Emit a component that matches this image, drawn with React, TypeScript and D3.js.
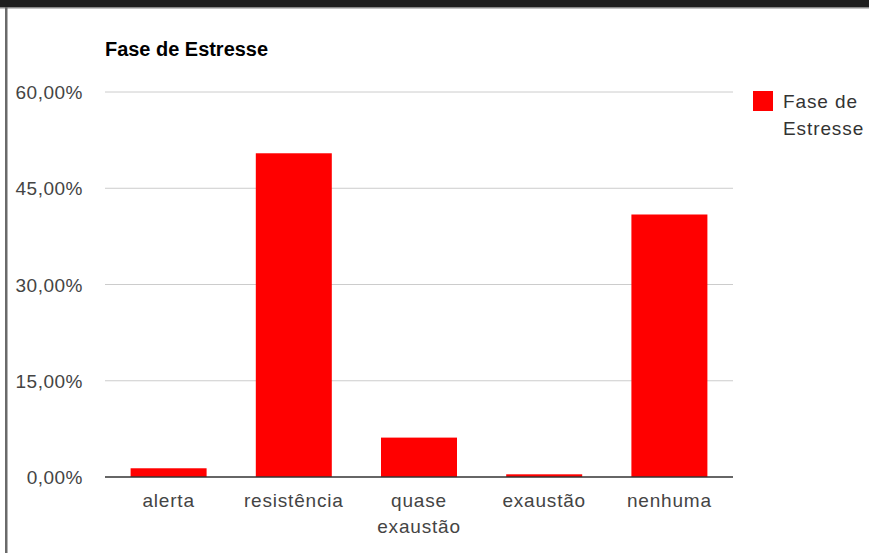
import React from "react";
import * as d3 from "d3";

const categories = ["alerta", "resistência", "quase exaustão", "exaustão", "nenhuma"];
const values = [1.36, 50.45, 6.14, 0.42, 40.91];
const yTicks = [0, 15, 30, 45, 60];
const seriesName = "Fase de Estresse";
const chartTitle = "Fase de Estresse";
const legendLines = ["Fase de", "Estresse"];

const W = 869;
const H = 553;
const FONT = "'Liberation Sans', Arial, sans-serif";

export default function App() {
  const x = d3
    .scaleBand<string>()
    .domain(categories)
    .range([106, 732])
    .paddingInner(0.393)
    .paddingOuter(0.1965);
  const y = d3.scaleLinear().domain([0, 60]).range([477, 92]);
  const fmt = (v: number) => v.toFixed(2).replace(".", ",") + "%";
  const wrap = (s: string) => (s.length > 12 ? s.split(" ") : [s]);

  return (
    <div style={{ position: "absolute", left: 0, top: 0 }}>
      <svg width={W} height={H} style={{ display: "block", background: "#fff" }}>
        <rect x={0} y={0} width={W} height={H} fill="#fff" />
        {/* frame */}
        <rect x={0} y={0} width={W} height={7} fill="#1e1e1e" />
        <rect x={0} y={7} width={W} height={1.5} fill="#888" />
        <rect x={5} y={7} width={2.5} height={H - 7} fill="#6a6a6a" />

        {/* title */}
        <text x={105} y={56} fontFamily={FONT} fontSize={20} fontWeight="bold" fill="#000" textLength={163} lengthAdjust="spacingAndGlyphs">
          {chartTitle}
        </text>

        {/* gridlines + y labels */}
        {yTicks.map((t) => (
          <g key={t}>
            {t !== 0 && (
              <line x1={105} x2={733} y1={y(t)} y2={y(t)} stroke="#cccccc" strokeWidth={1} />
            )}
            <text
              x={83}
              y={y(t) + 7}
              textAnchor="end"
              fontFamily={FONT}
              fontSize={19}
              letterSpacing={0.5}
              fill="#444"
            >
              {fmt(t)}
            </text>
          </g>
        ))}

        {/* bars */}
        {categories.map((c, i) => (
          <rect
            key={c}
            x={x(c)!}
            y={y(values[i])}
            width={x.bandwidth()}
            height={y(0) - y(values[i])}
            fill="#ff0000"
          />
        ))}

        {/* baseline */}
        <line x1={105} x2={733} y1={y(0)} y2={y(0)} stroke="#333" strokeWidth={1.5} />

        {/* x labels */}
        {categories.map((c) => (
          <text
            key={c}
            x={x(c)! + x.bandwidth() / 2}
            y={507}
            textAnchor="middle"
            fontFamily={FONT}
            fontSize={19}
            letterSpacing={0.8}
            fill="#444"
          >
            {wrap(c).map((line, j) => (
              <tspan key={j} x={x(c)! + x.bandwidth() / 2} dy={j === 0 ? 0 : 26}>
                {line}
              </tspan>
            ))}
          </text>
        ))}

        {/* legend */}
        <rect x={753} y={91} width={20} height={20} fill="#ff0000" />
        <text fontFamily={FONT} fontSize={19} letterSpacing={0.9} fill="#333" aria-label={seriesName}>
          {legendLines.map((l, j) => (
            <tspan key={j} x={783} y={108 + j * 27}>
              {l}
            </tspan>
          ))}
        </text>
      </svg>
    </div>
  );
}
